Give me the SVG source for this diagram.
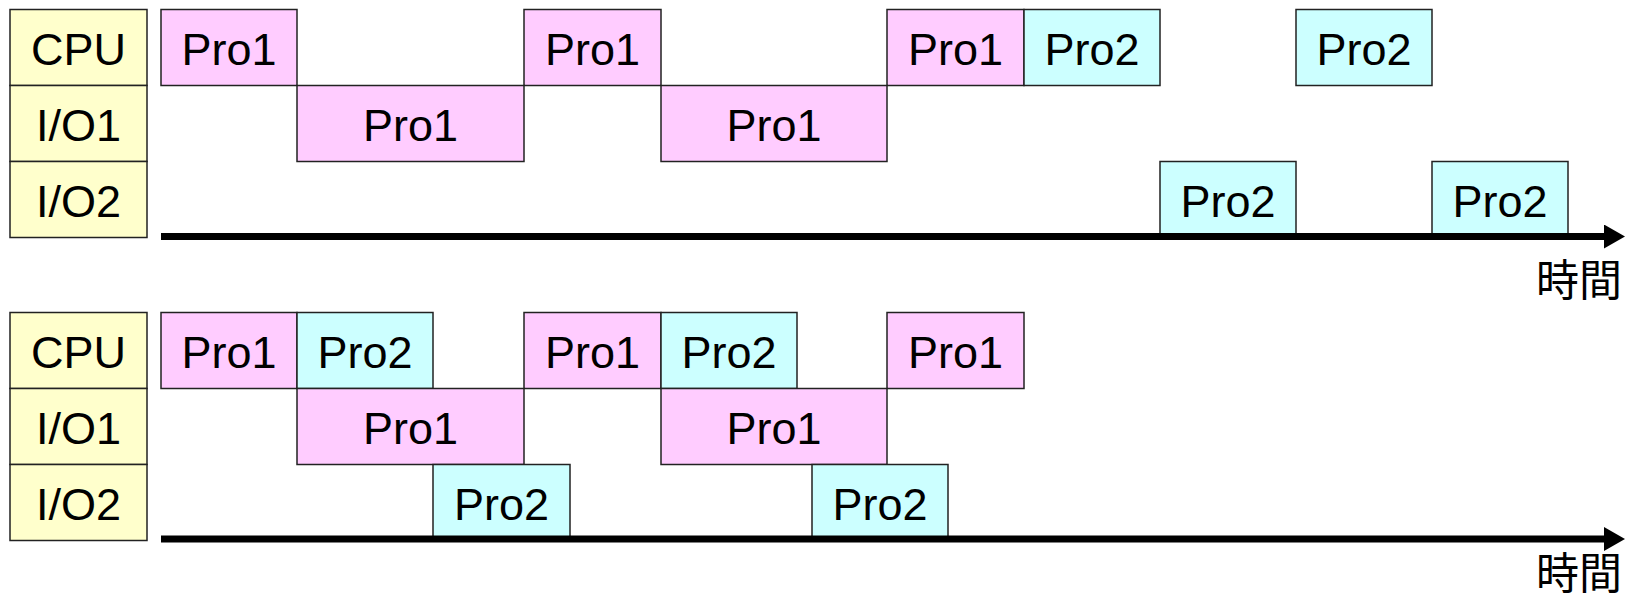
<svg xmlns="http://www.w3.org/2000/svg" width="1625" height="602" viewBox="0 0 1625 602">
<style>
.lbl{fill:#FFFFCC;stroke:#222;stroke-width:1.5}
.p1{fill:#FFCCFF;stroke:#222;stroke-width:1.5}
.p2{fill:#CCFFFF;stroke:#222;stroke-width:1.5}
text{font-family:"Liberation Sans",Arial,sans-serif;font-size:45px;fill:#000;text-anchor:middle}
.jp{font-family:"Noto Sans CJK JP","Noto Sans CJK SC",sans-serif;font-size:43px;text-anchor:end}
.axis{stroke:#000;stroke-width:7;fill:none}
</style>
<defs>
<marker id="arrow" viewBox="0 0 21 24" refX="0" refY="12" markerWidth="21" markerHeight="24" markerUnits="userSpaceOnUse" orient="auto">
<path d="M0,0 L21,12 L0,24 Z" fill="#000"/>
</marker>
</defs>

<!-- Diagram 1 -->
<g id="d1-labels">
<g id="d1-cpu-label"><rect class="lbl" x="10" y="9.5" width="137" height="76"/><text x="78.5" y="65">CPU</text></g>
<g id="d1-io1-label"><rect class="lbl" x="10" y="85.5" width="137" height="76"/><text x="78.5" y="141">I/O1</text></g>
<g id="d1-io2-label"><rect class="lbl" x="10" y="161.5" width="137" height="76"/><text x="78.5" y="217">I/O2</text></g>
</g>
<g id="d1-cpu-1"><rect class="p1" x="161" y="9.5" width="136" height="76"/><text x="229" y="65">Pro1</text></g>
<g id="d1-cpu-2"><rect class="p1" x="524" y="9.5" width="137" height="76"/><text x="592.5" y="65">Pro1</text></g>
<g id="d1-cpu-3"><rect class="p1" x="887" y="9.5" width="137" height="76"/><text x="955.5" y="65">Pro1</text></g>
<g id="d1-cpu-4"><rect class="p2" x="1024" y="9.5" width="136" height="76"/><text x="1092" y="65">Pro2</text></g>
<g id="d1-cpu-5"><rect class="p2" x="1296" y="9.5" width="136" height="76"/><text x="1364" y="65">Pro2</text></g>
<g id="d1-io1-1"><rect class="p1" x="297" y="85.5" width="227" height="76"/><text x="410.5" y="141">Pro1</text></g>
<g id="d1-io1-2"><rect class="p1" x="661" y="85.5" width="226" height="76"/><text x="774" y="141">Pro1</text></g>
<g id="d1-io2-1"><rect class="p2" x="1160" y="161.5" width="136" height="76"/><text x="1228" y="217">Pro2</text></g>
<g id="d1-io2-2"><rect class="p2" x="1432" y="161.5" width="136" height="76"/><text x="1500" y="217">Pro2</text></g>

<!-- Diagram 2 -->
<g id="d2-labels">
<g id="d2-cpu-label"><rect class="lbl" x="10" y="312.5" width="137" height="76"/><text x="78.5" y="368">CPU</text></g>
<g id="d2-io1-label"><rect class="lbl" x="10" y="388.5" width="137" height="76"/><text x="78.5" y="444">I/O1</text></g>
<g id="d2-io2-label"><rect class="lbl" x="10" y="464.5" width="137" height="76"/><text x="78.5" y="520">I/O2</text></g>
</g>
<g id="d2-cpu-1"><rect class="p1" x="161" y="312.5" width="136" height="76"/><text x="229" y="368">Pro1</text></g>
<g id="d2-cpu-2"><rect class="p2" x="297" y="312.5" width="136" height="76"/><text x="365" y="368">Pro2</text></g>
<g id="d2-cpu-3"><rect class="p1" x="524" y="312.5" width="137" height="76"/><text x="592.5" y="368">Pro1</text></g>
<g id="d2-cpu-4"><rect class="p2" x="661" y="312.5" width="136" height="76"/><text x="729" y="368">Pro2</text></g>
<g id="d2-cpu-5"><rect class="p1" x="887" y="312.5" width="137" height="76"/><text x="955.5" y="368">Pro1</text></g>
<g id="d2-io1-1"><rect class="p1" x="297" y="388.5" width="227" height="76"/><text x="410.5" y="444">Pro1</text></g>
<g id="d2-io1-2"><rect class="p1" x="661" y="388.5" width="226" height="76"/><text x="774" y="444">Pro1</text></g>
<g id="d2-io2-1"><rect class="p2" x="433" y="464.5" width="137" height="76"/><text x="501.5" y="520">Pro2</text></g>
<g id="d2-io2-2"><rect class="p2" x="812" y="464.5" width="136" height="76"/><text x="880" y="520">Pro2</text></g>

<g id="connectors">
<line class="axis" x1="161" y1="236.5" x2="1604" y2="236.5" marker-end="url(#arrow)"/>
<line class="axis" x1="161" y1="539" x2="1604" y2="539" marker-end="url(#arrow)"/>
</g>
<text class="jp" x="1622" y="296">時間</text>
<text class="jp" x="1622" y="589">時間</text>
</svg>
